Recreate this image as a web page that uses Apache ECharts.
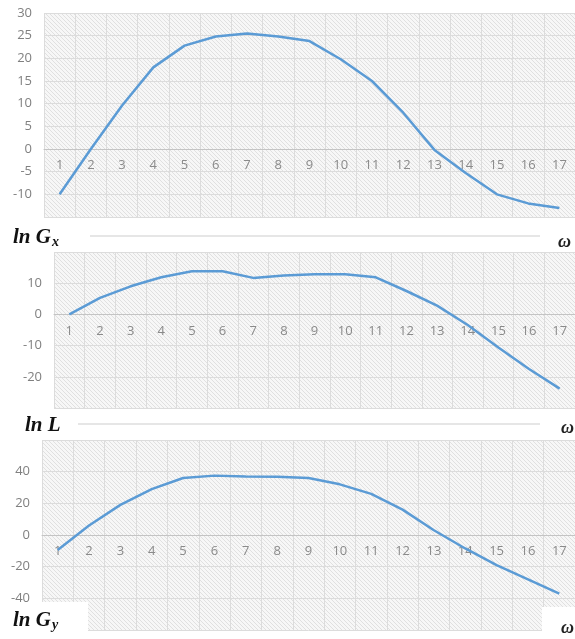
<!DOCTYPE html>
<html>
<head>
<meta charset="utf-8">
<script src="https://cdn.jsdelivr.net/npm/echarts@6/dist/echarts.min.js"></script>
<style>
  html, body { margin: 0; padding: 0; background: #fff; }
  #chart { width: 575px; height: 639px; }
</style>
</head>
<body>
<div id="chart"></div>
<script>
const omega = ['1','2','3','4','5','6','7','8','9','10','11','12','13','14','15','16','17'];
const lnGx = [-10, 0, 9.6, 18, 22.8, 24.8, 25.5, 24.8, 23.8, 19.8, 15, 8, -0.2, -5.3, -10, -12, -13];
const lnL = [0, 5.3, 9, 11.9, 13.8, 13.8, 11.7, 12.5, 12.9, 12.9, 11.9, 7.5, 2.8, -3.4, -10.6, -17.5, -23.8];
const lnGy = [-9.5, 6, 19, 29, 36, 37.5, 37, 36.8, 36, 32, 26, 16, 3, -8.5, -19, -28, -37];

// hatch fill like the scanned Excel plot area
const hatch = document.createElement('canvas');
hatch.width = 4; hatch.height = 4;
const hc = hatch.getContext('2d');
hc.fillStyle = '#f7f7f7';
hc.fillRect(0, 0, 4, 4);
hc.strokeStyle = '#e0e0e0';
hc.lineWidth = 1;
hc.beginPath();
hc.moveTo(-1, -1); hc.lineTo(5, 5);
hc.moveTo(-1, 3); hc.lineTo(1, 5);
hc.moveTo(3, -1); hc.lineTo(5, 1);
hc.stroke();
const hatchFill = { image: hatch, repeat: 'repeat' };

const grids = [
  { left: 44, right: -8, top: 13, height: 204 },
  { left: 54, right: -6, top: 252, height: 156 },
  { left: 42, right: -8, top: 440, height: 190 }
];
const ranges = [
  { min: -15, max: 30, interval: 5 },
  { min: -30, max: 20, interval: 10 },
  { min: -60, max: 60, interval: 20 }
];
const series = [lnGx, lnL, lnGy];

const chart = echarts.init(document.getElementById('chart'));
chart.setOption({
  backgroundColor: '#fff',
  animation: false,
  grid: grids.map(g => Object.assign({ show: true, backgroundColor: hatchFill, borderWidth: 0 }, g)),
  xAxis: grids.map((g, i) => ({
    type: 'category',
    gridIndex: i,
    data: omega,
    boundaryGap: true,
    // put the axis on the zero line of its value axis
    offset: -g.height * (0 - ranges[i].min) / (ranges[i].max - ranges[i].min),
    axisLine: { onZero: false, lineStyle: { color: '#c4c4c4', width: 1 } },
    axisTick: { show: false },
    axisLabel: { color: '#8a8a8a', fontSize: 13, fontFamily: 'Open Sans', margin: 10 },
    splitLine: { show: true, interval: 0, lineStyle: { color: '#dcdcdc', width: 1 } }
  })),
  yAxis: ranges.map((r, i) => ({
    type: 'value',
    gridIndex: i,
    min: r.min,
    max: r.max,
    interval: r.interval,
    axisLine: { show: false },
    axisTick: { show: false },
    axisLabel: {
      color: '#808080', fontSize: 13, fontFamily: 'Open Sans', margin: 12,
      showMinLabel: false, showMaxLabel: i === 0
    },
    splitLine: { lineStyle: { color: '#dcdcdc', width: 1 } }
  })),
  series: series.map((d, i) => ({
    type: 'line',
    xAxisIndex: i,
    yAxisIndex: i,
    data: d,
    showSymbol: false,
    lineStyle: { color: '#5b9bd5', width: 2.5 }
  })),
  title: [
    { text: '{a|ln G}{s|x}', left: 8, top: 222 },
    { text: '{a|ln L}', left: 20, top: 410 },
    { text: '{a|ln G}{s|y}', left: 8, top: 605 },
    { text: '{w|ω}', left: 553, top: 228 },
    { text: '{w|ω}', left: 556, top: 414 },
    { text: '{w|ω}', left: 556, top: 614 }
  ].map(t => Object.assign(t, {
    z: 20,
    textStyle: {
      rich: {
        a: { fontFamily: 'Liberation Serif', fontStyle: 'italic', fontWeight: 'bold', fontSize: 21, color: '#111' },
        s: { fontFamily: 'Liberation Serif', fontStyle: 'italic', fontWeight: 'bold', fontSize: 14, color: '#111', padding: [8, 0, 0, 1] },
        w: { fontFamily: 'Liberation Serif', fontStyle: 'italic', fontSize: 18, color: '#222' }
      }
    }
  })),
  graphic: [
    { type: 'rect', shape: { x: 0, y: 217, width: 575, height: 35 }, style: { fill: '#fff' }, z: 0 },
    { type: 'line', shape: { x1: 90, y1: 236, x2: 540, y2: 236 }, style: { stroke: '#dedede', lineWidth: 1.5 } },
    { type: 'rect', shape: { x: 0, y: 408, width: 575, height: 32 }, style: { fill: '#fff' }, z: 0 },
    { type: 'line', shape: { x1: 78, y1: 424, x2: 540, y2: 424 }, style: { stroke: '#dedede', lineWidth: 1.5 } },
    { type: 'rect', shape: { x: 0, y: 602, width: 88, height: 37 }, style: { fill: '#fff' }, z: 5 },
    { type: 'rect', shape: { x: 542, y: 607, width: 33, height: 32 }, style: { fill: '#fff' }, z: 5 }
  ]
});
</script>
</body>
</html>
